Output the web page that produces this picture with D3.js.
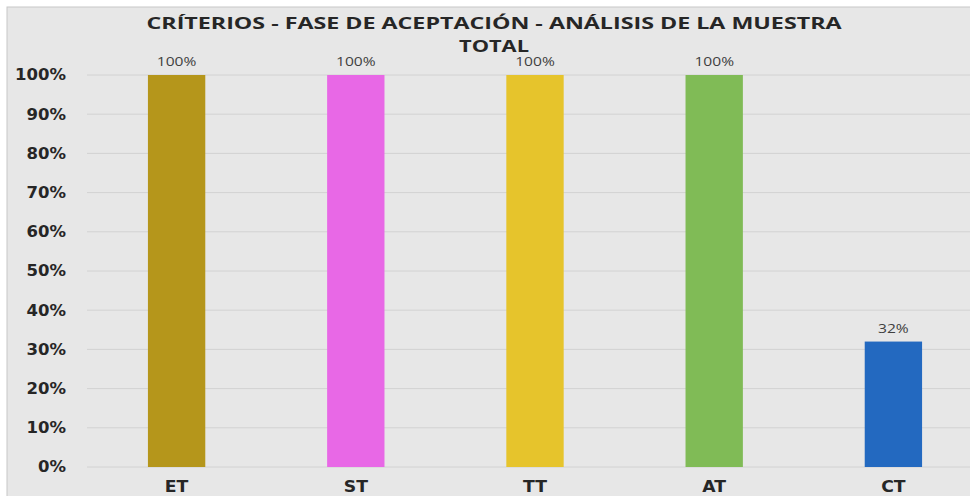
<!DOCTYPE html>
<html>
<head>
<meta charset="utf-8">
<script src="https://cdn.jsdelivr.net/npm/d3@7"></script>
<style>
  body { margin: 0; background: #fff; }
  svg { display: block; }
</style>
</head>
<body>
<div id="chart"></div>
<script>
const categories = ["ET", "ST", "TT", "AT", "CT"]
const values = [100, 100, 100, 100, 32]
const barColors = ["#b5961b", "#e868e6", "#e6c42c", "#80bb56", "#2369c0"]
const yTicks = [0, 10, 20, 30, 40, 50, 60, 70, 80, 90, 100]
const titleLines = ["CRÍTERIOS - FASE DE ACEPTACIÓN - ANÁLISIS DE LA MUESTRA", "TOTAL"]

const width = 970
const height = 496

const svg = d3.select('#chart')
	.append('svg')
	.attr('width', width)
	.attr('height', height)

// chart background + frame
svg.append('rect')
	.attr('x', 7).attr('y', 7)
	.attr('width', width).attr('height', height)
	.attr('fill', '#e7e7e7')
	.attr('stroke', '#c8c8c8')

const xScale = d3.scaleBand()
	.domain(categories)
	.range([87, 983])
	.paddingInner(0.68)
	.paddingOuter(0.34)

const yScale = d3.scaleLinear()
	.domain([0, 100])
	.range([467, 75])

// gridlines
svg.append('g')
	.selectAll('line')
	.data(yTicks)
	.join('line')
	.attr('x1', 87)
	.attr('x2', width)
	.attr('y1', d => yScale(d))
	.attr('y2', d => yScale(d))
	.attr('stroke', '#d2d2d2')
	.attr('stroke-width', 1)

// y axis labels (the picture is stretched sideways, so the text is too)
svg.append('g')
	.selectAll('text')
	.data(yTicks)
	.join('text')
	.attr('transform', d => `translate(66 ${yScale(d)}) scale(1.1 1)`)
	.attr('dy', '0.36em')
	.attr('text-anchor', 'end')
	.attr('font-family', 'DejaVu Sans, Verdana, sans-serif')
	.attr('font-weight', 'bold')
	.attr('font-size', '15px')
	.attr('fill', '#262626')
	.text(d => d + '%')

// bars
svg.append('g')
	.selectAll('rect')
	.data(values)
	.join('rect')
	.attr('x', (d, i) => xScale(categories[i]))
	.attr('width', xScale.bandwidth())
	.attr('y', d => yScale(d))
	.attr('height', d => yScale(0) - yScale(d))
	.attr('fill', (d, i) => barColors[i])

// value labels
svg.append('g')
	.selectAll('text')
	.data(values)
	.join('text')
	.attr('transform', (d, i) => `translate(${xScale(categories[i]) + xScale.bandwidth() / 2} ${yScale(d) - 9}) scale(1.3 1)`)
	.attr('text-anchor', 'middle')
	.attr('font-family', 'Open Sans, sans-serif')
	.attr('font-size', '12px')
	.attr('fill', '#404040')
	.text(d => d + '%')

// x axis labels
svg.append('g')
	.selectAll('text')
	.data(categories)
	.join('text')
	.attr('transform', d => `translate(${xScale(d) + xScale.bandwidth() / 2} 492) scale(1.15 1)`)
	.attr('text-anchor', 'middle')
	.attr('font-family', 'DejaVu Sans, Verdana, sans-serif')
	.attr('font-weight', 'bold')
	.attr('font-size', '15px')
	.attr('fill', '#262626')
	.text(d => d)

// title
const titleWidths = [695, 70]
svg.append('g')
	.selectAll('text')
	.data(titleLines)
	.join('text')
	.attr('x', 494)
	.attr('y', (d, i) => 29 + i * 23)
	.attr('text-anchor', 'middle')
	.attr('textLength', (d, i) => titleWidths[i])
	.attr('lengthAdjust', 'spacingAndGlyphs')
	.attr('font-family', 'Open Sans, sans-serif')
	.attr('font-weight', 'bold')
	.attr('font-size', '16.5px')
	.attr('fill', '#262626')
	.text(d => d)
</script>
</body>
</html>
